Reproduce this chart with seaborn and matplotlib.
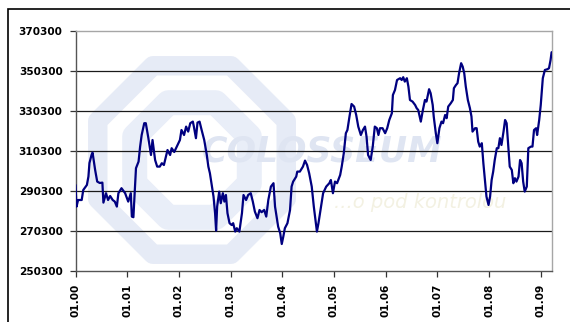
import numpy as np
import pandas as pd
import matplotlib
matplotlib.use("Agg")
import matplotlib.pyplot as plt
from matplotlib.patches import Polygon, Rectangle
from matplotlib.transforms import IdentityTransform
import seaborn as sns

# Index level, position in units of the labelled periods (0 = 01.00)
period = [
    0.00, 0.02, 0.05, 0.12, 0.15, 0.22, 0.25, 0.27, 0.31, 0.33, 0.38, 0.42, 0.47, 0.52, 0.54,
    0.59, 0.63, 0.67, 0.72, 0.76, 0.80, 0.83, 0.89, 0.96, 1.02, 1.07, 1.09, 1.12, 1.17, 1.22,
    1.25, 1.28, 1.33, 1.36, 1.41, 1.46, 1.49, 1.54, 1.58, 1.63, 1.67, 1.71, 1.75, 1.78, 1.83,
    1.86, 1.91, 1.96, 2.02, 2.05, 2.10, 2.14, 2.18, 2.22, 2.27, 2.29, 2.33, 2.36, 2.40, 2.44,
    2.49, 2.54, 2.57, 2.60, 2.63, 2.67, 2.70, 2.72, 2.74, 2.78, 2.81, 2.85, 2.88, 2.91, 2.94,
    2.98, 3.02, 3.05, 3.09, 3.12, 3.17, 3.22, 3.25, 3.30, 3.34, 3.39, 3.43, 3.47, 3.52, 3.56,
    3.60, 3.65, 3.69, 3.73, 3.78, 3.83, 3.86, 3.92, 3.96, 3.99, 4.02, 4.05, 4.10, 4.15, 4.18,
    4.21, 4.27, 4.29, 4.34, 4.40, 4.44, 4.48, 4.52, 4.57, 4.61, 4.67, 4.70, 4.74, 4.79, 4.85,
    4.91, 4.94, 4.98, 5.02, 5.06, 5.12, 5.15, 5.19, 5.23, 5.26, 5.30, 5.34, 5.39, 5.43, 5.47,
    5.52, 5.56, 5.60, 5.63, 5.66, 5.71, 5.75, 5.79, 5.83, 5.86, 5.89, 5.94, 5.99, 6.03, 6.07,
    6.12, 6.14, 6.18, 6.22, 6.28, 6.31, 6.34, 6.37, 6.41, 6.44, 6.47, 6.52, 6.57, 6.60, 6.63,
    6.68, 6.72, 6.76, 6.79, 6.84, 6.87, 6.91, 6.93, 6.97, 7.00, 7.04, 7.08, 7.11, 7.15, 7.18,
    7.21, 7.26, 7.30, 7.32, 7.36, 7.39, 7.42, 7.46, 7.49, 7.52, 7.55, 7.59, 7.63, 7.66, 7.68,
    7.73, 7.76, 7.79, 7.82, 7.86, 7.89, 7.92, 7.95, 7.99, 8.02, 8.05, 8.08, 8.11, 8.15, 8.18,
    8.21, 8.24, 8.28, 8.31, 8.34, 8.37, 8.40, 8.44, 8.47, 8.50, 8.53, 8.57, 8.60, 8.63, 8.66,
    8.69, 8.73, 8.76, 8.81, 8.84, 8.87, 8.91, 8.93, 8.97, 9.00, 9.04, 9.08, 9.13, 9.16, 9.19,
    9.21,
]
level = [
    293300, 282500, 285800, 285800, 290800, 293300, 297500, 304300, 308300, 309500, 300800, 295000, 294300, 294500, 284500,
    289200, 285800, 287800, 285800, 285000, 282500, 289200, 291700, 289200, 285000, 289200, 277500, 277200, 301700, 305000,
    312500, 318300, 324200, 324200, 316700, 308300, 315800, 305800, 302500, 302500, 304200, 303300, 307500, 310800, 308300,
    311700, 309800, 312500, 315800, 320800, 318300, 322500, 320000, 324200, 325000, 322500, 316700, 324500, 325000, 320800,
    315800, 308300, 302500, 299200, 294200, 287500, 279200, 270500, 282500, 290000, 284200, 289200, 285000, 288300, 279200,
    274200, 273300, 274200, 270000, 271700, 270000, 279200, 288300, 285800, 288300, 289200, 285000, 280000, 276700, 280800,
    279700, 280800, 277500, 285800, 292500, 294200, 282500, 272500, 269200, 263800, 267500, 271700, 274200, 280800, 292500,
    295000, 297500, 300000, 300000, 302500, 305500, 303300, 299200, 292500, 282500, 270000, 274200, 280800, 289200, 292500,
    294200, 295800, 289200, 295000, 294200, 298300, 302500, 309200, 319200, 320800, 327500, 333800, 332500, 328300, 322500,
    318300, 320800, 322500, 317500, 308300, 305800, 312500, 322500, 321700, 318300, 321700, 321700, 319200, 321700, 325800,
    329200, 338300, 340800, 345800, 346700, 345800, 347200, 345000, 346700, 342500, 335800, 335000, 333300, 331700, 330800,
    325000, 330800, 335800, 335000, 341200, 339200, 333300, 327500, 319200, 314200, 321700, 325000, 324200, 328300, 326700,
    332500, 334200, 335800, 341700, 343300, 344200, 349200, 354200, 352500, 349200, 342500, 335800, 331700, 327500, 320000,
    321700, 321700, 315000, 312500, 314200, 304200, 295800, 287500, 283300, 287500, 295800, 300000, 305800, 311700, 311700,
    316700, 313300, 320000, 325800, 324200, 313300, 302500, 300800, 294200, 296700, 295000, 297500, 305800, 304200, 295000,
    290000, 292500, 311700, 312500, 312500, 320800, 321700, 318300, 325800, 333300, 346700, 350800, 351200, 351700, 355800,
    359700,
]
tick_labels = ["01.00", "01.01", "01.02", "01.03", "01.04",
               "01.05", "01.06", "01.07", "01.08", "01.09"]
y_ticks = [250300, 270300, 290300, 310300, 330300, 350300, 370300]

df = pd.DataFrame({"period": period, "level": level})

sns.set_style("white")
plt.rcParams["font.family"] = ["DejaVu Sans"]

fig = plt.figure(figsize=(5.70, 3.22), dpi=100)
ax = fig.add_axes([75.5 / 570, 1 - 271 / 322, (551.6 - 75.5) / 570, 240 / 322])
ax.set_facecolor("none")

# outer chart frame (runs off the right and bottom edges)
fig.add_artist(Rectangle((7.5 / 570, -0.05), 1.2, 1 - 8.5 / 322 + 0.05,
                         transform=fig.transFigure, fill=False,
                         edgecolor="black", lw=1.2, zorder=-5))

# pale logo in the plot background
px = IdentityTransform()
H = 322


def octagon(cx, cy, r):
    ang = np.deg2rad(22.5 + 45 * np.arange(8))
    return np.column_stack([cx + r * np.cos(ang), H - (cy + r * np.sin(ang))])


ax.add_patch(Polygon(octagon(192, 160, 102), closed=True, fill=False,
                     edgecolor="#e6ebf6", lw=14, transform=px, zorder=0.1,
                     clip_on=False, joinstyle="round"))
ax.add_patch(Polygon(octagon(192, 160, 62), closed=True, fill=False,
                     edgecolor="#e9eef8", lw=18, transform=px, zorder=0.1,
                     clip_on=False, joinstyle="round"))
ax.text(322, H - 152, "COLOSSEUM", transform=px, ha="center", va="center",
        fontsize=25, fontweight="bold", style="italic", color="#dfe5f2",
        zorder=0.2)
ax.text(420, H - 203, "...o pod kontrolou", transform=px, ha="center",
        va="center", fontsize=14, style="italic", color="#f3f1e2", zorder=0.2)

sns.lineplot(data=df, x="period", y="level", ax=ax, color="#000080",
             lw=1.6, estimator=None, sort=False, zorder=3)

ax.set_xlim(0, 9.21)
ax.set_ylim(250300, 370300)
ax.set_xticks(range(len(tick_labels)))
ax.set_xticklabels(tick_labels, rotation=90)
ax.set_yticks(y_ticks)
ax.set_yticklabels([str(v) for v in y_ticks])
ax.set_xlabel("")
ax.set_ylabel("")

for v in y_ticks[1:-1]:
    ax.axhline(v, color="#1a1a1a", lw=0.9, zorder=1)

for side in ("top", "right"):
    ax.spines[side].set_color("#a6a6a6")
    ax.spines[side].set_linewidth(1.0)
for side in ("left", "bottom"):
    ax.spines[side].set_color("#555555")
    ax.spines[side].set_linewidth(1.0)

ax.tick_params(axis="both", which="major", direction="out", length=4.5,
               width=0.9, color="#333333", labelsize=7.6, pad=4.8,
               left=True, bottom=True)
for lab in ax.get_xticklabels() + ax.get_yticklabels():
    lab.set_fontweight("bold")
    lab.set_color("black")
ax.grid(False)

fig.savefig("out.png", dpi=100)
